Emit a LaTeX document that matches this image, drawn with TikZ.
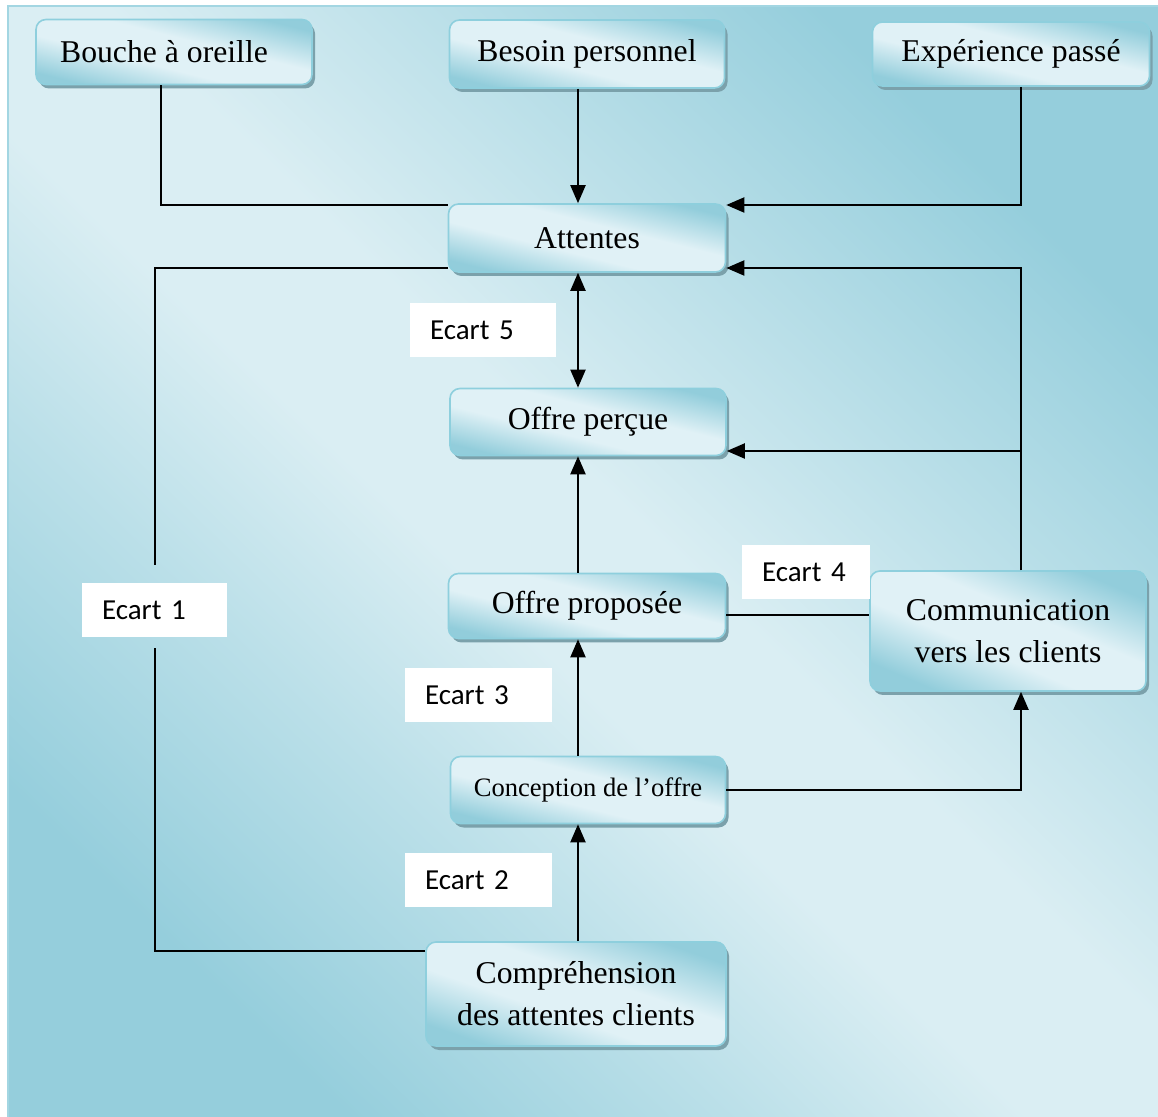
\documentclass[tikz,border=0pt]{standalone}
\usepackage{fontspec}
\setmainfont{Liberation Serif}
\newfontfamily\calib{Carlito}
\usetikzlibrary{arrows.meta,shadows}

\definecolor{bgdark}{HTML}{95CEDC}
\definecolor{bglight}{HTML}{DAEEF3}
\definecolor{bgedge}{HTML}{A3D6E2}
\definecolor{boxdark}{HTML}{92CDDB}
\definecolor{boxlight}{HTML}{E0F1F6}
\definecolor{boxedge}{HTML}{8ECFDD}
\definecolor{boxshadow}{HTML}{7BA1AB}

% diagonal band: dark corners, light along the main diagonal
\pgfdeclareverticalshading{panelband}{100bp}{color(0bp)=(bgdark); color(25bp)=(bgdark);
  color(37bp)=(bgdark!45!bglight); color(46bp)=(bglight); color(53bp)=(bglight);
  color(63bp)=(bgdark!45!bglight); color(75bp)=(bgdark); color(100bp)=(bgdark)}
\pgfdeclareverticalshading{stageband}{100bp}{color(0bp)=(boxdark); color(25bp)=(boxdark);
  color(42bp)=(boxlight); color(57bp)=(boxlight); color(75bp)=(boxdark); color(100bp)=(boxdark)}

\tikzset{
  stage/.style={rounded corners=5pt, draw=boxedge, line width=0.8pt,
    shading=stageband, shading angle=-14,
    drop shadow={shadow xshift=1.5pt, shadow yshift=-2pt, fill=boxshadow, opacity=1},
    align=center, inner sep=2pt, text=black,
    font=\fontsize{15.85}{21}\selectfont},
  smalltext/.style={font=\fontsize{13.3}{16}\selectfont},
  gaplabel/.style={fill=white, draw=none, align=left, inner xsep=10pt, inner ysep=0pt,
    minimum height=27pt, text width=#1, font=\calib\fontsize{14.5}{17}\selectfont},
  link/.style={line width=1pt, draw=black},
  arr/.style={link, -{Triangle[length=9pt,width=7.5pt]}},
  dblarr/.style={link, {Triangle[length=9pt,width=7.5pt]}-{Triangle[length=9pt,width=7.5pt]}},
}

\begin{document}
\begin{tikzpicture}[x=0.5pt,y=-0.5pt]
  \useasboundingbox (0,0) rectangle (1158,1117);

  % backdrop panel
  \path[shading=panelband, shading angle=-44] (8,6) rectangle (1158,1117);
  \draw[bgedge, line width=1pt] (8,1117) -- (8,6) -- (1158,6);

  % stages of the gap model
  \node[stage, minimum width=138pt,   minimum height=32.5pt] (bouche) at (174,52)  {Bouche à oreille\hspace{10pt}};
  \node[stage, minimum width=137.5pt, minimum height=34pt]   (besoin) at (587,54)  {Besoin personnel};
  \node[stage, minimum width=138.5pt, minimum height=32pt]   (exp)    at (1011,54) {Expérience passé};
  \node[stage, minimum width=138.5pt, minimum height=34pt]   (att)    at (587,238) {Attentes};
  \node[stage, minimum width=138pt,   minimum height=33.5pt] (perc)   at (588,422) {Offre perçue};
  \node[stage, minimum width=138.5pt, minimum height=32.5pt] (prop)   at (587,606) {Offre proposée};
  \node[stage, shading angle=-23, minimum width=138pt, minimum height=60pt] (comm) at (1008,631) {Communication\\vers les clients};
  \node[stage, smalltext, minimum width=137.5pt, minimum height=33.5pt] (conc) at (588,790) {Conception de l’offre};
  \node[stage, shading angle=-19, minimum width=150pt, minimum height=52pt] (comp) at (576,994) {Compréhension\\des attentes clients};

  % gap labels
  \node[gaplabel=53pt]   (e5) at (483,330)   {Ecart 5};
  \node[gaplabel=44pt]   (e4) at (806,572)   {Ecart 4};
  \node[gaplabel=53.5pt] (e3) at (478.5,695) {Ecart 3};
  \node[gaplabel=53.5pt] (e2) at (478.5,880) {Ecart 2};
  \node[gaplabel=52.5pt] (e1) at (154.5,610) {Ecart 1};

  % columns and levels used by the connectors
  \coordinate (cL)  at (161,0);
  \coordinate (cL1) at (155,0);
  \coordinate (cM)  at (578,0);
  \coordinate (cR)  at (1021,0);
  \coordinate (y1)  at (0,205);
  \coordinate (y2)  at (0,268);
  \coordinate (y3)  at (0,451);
  \coordinate (y4)  at (0,615);
  \coordinate (y6)  at (0,951);

  % connectors
  \draw[link] (bouche.south -| cL) |- (att.west |- y1);
  \draw[arr]  (besoin.south -| cM) -- (att.north -| cM);
  \draw[arr]  (exp.south -| cR) |- (att.east |- y1);
  \draw[dblarr] (att.south -| cM) -- (perc.north -| cM);
  \draw[arr]  (comm.north -| cR) |- (att.east |- y2);
  \draw[arr]  (comm.north -| cR) |- (perc.east |- y3);
  \draw[arr]  (prop.north -| cM) -- (perc.south -| cM);
  \draw[link] (prop.east |- y4) -- (comm.west |- y4);
  \draw[arr]  (conc.north -| cM) -- (prop.south -| cM);
  \draw[arr]  (conc.east) -| (comm.south -| cR);
  \draw[arr]  (comp.north -| cM) -- (conc.south -| cM);
  \draw[link, shorten >=9pt]   (att.west |- y2) -| (e1.north -| cL1);
  \draw[link, shorten >=5.5pt] (comp.west |- y6) -| (e1.south -| cL1);
\end{tikzpicture}
\end{document}
